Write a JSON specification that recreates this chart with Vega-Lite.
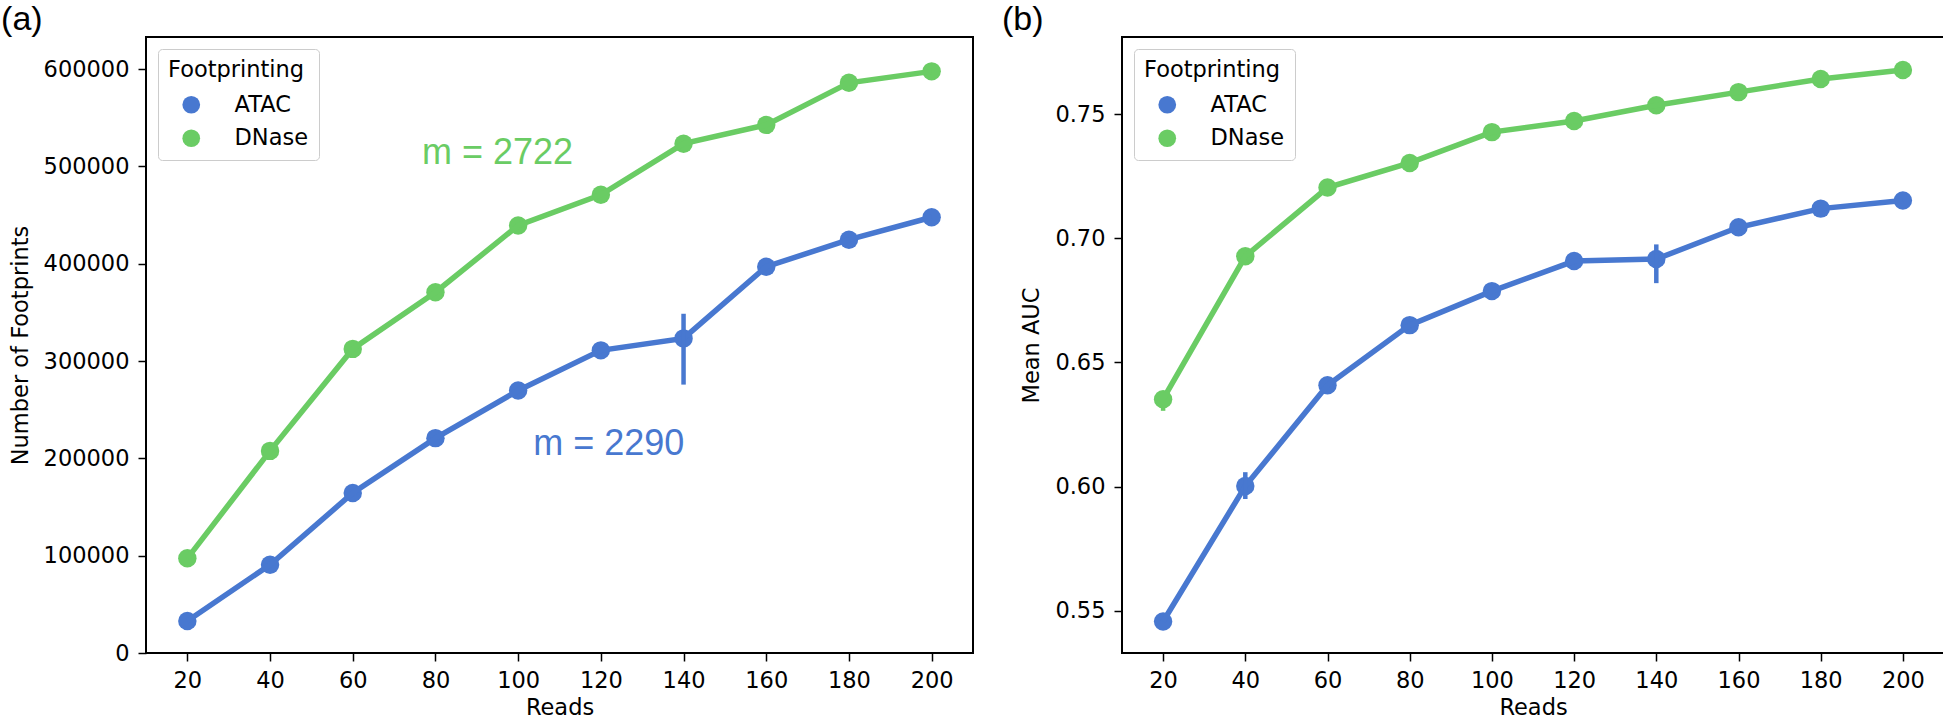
{
  "$schema": "https://vega.github.io/schema/vega-lite/v6.json",
  "padding": {"left": 0, "top": 2, "right": 0, "bottom": 0},
  "background": "white",
  "spacing": 26,
  "config": {
    "view": {"stroke": "black", "strokeWidth": 2},
    "axis": {"grid": false, "domain": false, "tickColor": "black", "tickSize": 8, "tickWidth": 1.5, "labelFont": "DejaVu Sans", "labelFontSize": 22.5, "labelColor": "black", "labelPadding": 9, "titleFont": "DejaVu Sans", "titleFontSize": 22.5, "titleFontWeight": "normal", "titleColor": "black", "titlePadding": 11},
    "axisX": {"titlePadding": 4.5, "labelPadding": 8},
    "legend": {"titleFont": "DejaVu Sans", "titleFontSize": 22.5, "titleFontWeight": "normal", "titleColor": "black", "labelFont": "DejaVu Sans", "labelFontSize": 22.5, "labelColor": "black", "symbolSize": 314, "symbolType": "circle", "symbolStrokeWidth": 0, "padding": 10, "strokeColor": "#cccccc", "fillColor": "white", "cornerRadius": 4, "rowPadding": 10.5, "titlePadding": 12, "symbolOffset": 12, "labelOffset": 32},
    "title": {"font": "Liberation Sans", "fontSize": 34, "fontWeight": "normal", "anchor": "start", "frame": "bounds", "color": "black"}
  },
  "hconcat": [
    {
      "width": 827,
      "height": 616,
      "title": {"text": "(a)", "dx": -8, "offset": 0},
      "data": {"values": [
        {"Footprinting": "ATAC", "Reads": 20, "value": 32900},
        {"Footprinting": "ATAC", "Reads": 40, "value": 90700},
        {"Footprinting": "ATAC", "Reads": 60, "value": 164400},
        {"Footprinting": "ATAC", "Reads": 80, "value": 220800},
        {"Footprinting": "ATAC", "Reads": 100, "value": 269700},
        {"Footprinting": "ATAC", "Reads": 120, "value": 311000},
        {"Footprinting": "ATAC", "Reads": 140, "value": 323300, "lo": 275800, "hi": 348600},
        {"Footprinting": "ATAC", "Reads": 160, "value": 397000},
        {"Footprinting": "ATAC", "Reads": 180, "value": 424700},
        {"Footprinting": "ATAC", "Reads": 200, "value": 447800},
        {"Footprinting": "DNase", "Reads": 20, "value": 97300},
        {"Footprinting": "DNase", "Reads": 40, "value": 207700},
        {"Footprinting": "DNase", "Reads": 60, "value": 312500},
        {"Footprinting": "DNase", "Reads": 80, "value": 370700},
        {"Footprinting": "DNase", "Reads": 100, "value": 439300},
        {"Footprinting": "DNase", "Reads": 120, "value": 470800},
        {"Footprinting": "DNase", "Reads": 140, "value": 523400},
        {"Footprinting": "DNase", "Reads": 160, "value": 542700},
        {"Footprinting": "DNase", "Reads": 180, "value": 585900},
        {"Footprinting": "DNase", "Reads": 200, "value": 597700}
      ]},
      "encoding": {
        "x": {"field": "Reads", "type": "quantitative", "scale": {"domain": [10, 210], "nice": false}, "axis": {"values": [20, 40, 60, 80, 100, 120, 140, 160, 180, 200], "title": "Reads"}},
        "color": {"field": "Footprinting", "type": "nominal", "scale": {"domain": ["ATAC", "DNase"], "range": ["#4878d0", "#6acc64"]}, "legend": {"title": "Footprinting", "orient": "top-left", "offset": 12}}
      },
      "layer": [
        {"mark": {"type": "point", "filled": true, "size": 340, "opacity": 1},
         "encoding": {"y": {"field": "value", "type": "quantitative", "scale": {"domain": [0, 633000], "nice": false, "zero": false}, "axis": {"values": [0, 100000, 200000, 300000, 400000, 500000, 600000], "format": "d"}, "title": "Number of Footprints"}}},
        {"mark": {"type": "line", "strokeWidth": 5.5},
         "encoding": {"y": {"field": "value", "type": "quantitative", "title": "Number of Footprints"}}},
        {"transform": [{"filter": "isValid(datum.lo)"}],
         "mark": {"type": "rule", "strokeWidth": 4.5},
         "encoding": {"y": {"field": "lo", "type": "quantitative", "title": "Number of Footprints"}, "y2": {"field": "hi"}}},
        {"data": {"values": [
          {"Footprinting": "DNase", "label": "m = 2722", "Reads": 95, "value": 502400},
          {"Footprinting": "ATAC", "label": "m = 2290", "Reads": 121.9, "value": 203400}
        ]},
         "mark": {"type": "text", "font": "Liberation Sans", "fontSize": 36, "align": "center", "baseline": "alphabetic"},
         "encoding": {"y": {"field": "value", "type": "quantitative", "title": "Number of Footprints"}, "text": {"field": "label"}}}
      ]
    },
    {
      "width": 822,
      "height": 616,
      "title": {"text": "(b)", "dx": -19, "offset": 0},
      "data": {"values": [
        {"Footprinting": "ATAC", "Reads": 20, "value": 0.5457},
        {"Footprinting": "ATAC", "Reads": 40, "value": 0.6002, "lo": 0.5950, "hi": 0.6058},
        {"Footprinting": "ATAC", "Reads": 60, "value": 0.6408},
        {"Footprinting": "ATAC", "Reads": 80, "value": 0.6650},
        {"Footprinting": "ATAC", "Reads": 100, "value": 0.6787},
        {"Footprinting": "ATAC", "Reads": 120, "value": 0.6908},
        {"Footprinting": "ATAC", "Reads": 140, "value": 0.6916, "lo": 0.6819, "hi": 0.6975},
        {"Footprinting": "ATAC", "Reads": 160, "value": 0.7044},
        {"Footprinting": "ATAC", "Reads": 180, "value": 0.7119},
        {"Footprinting": "ATAC", "Reads": 200, "value": 0.7152},
        {"Footprinting": "DNase", "Reads": 20, "value": 0.6352, "lo": 0.6305, "hi": 0.6380},
        {"Footprinting": "DNase", "Reads": 40, "value": 0.6927},
        {"Footprinting": "DNase", "Reads": 60, "value": 0.7204},
        {"Footprinting": "DNase", "Reads": 80, "value": 0.7303},
        {"Footprinting": "DNase", "Reads": 100, "value": 0.7427},
        {"Footprinting": "DNase", "Reads": 120, "value": 0.7472},
        {"Footprinting": "DNase", "Reads": 140, "value": 0.7535},
        {"Footprinting": "DNase", "Reads": 160, "value": 0.7588},
        {"Footprinting": "DNase", "Reads": 180, "value": 0.7641},
        {"Footprinting": "DNase", "Reads": 200, "value": 0.7677}
      ]},
      "encoding": {
        "x": {"field": "Reads", "type": "quantitative", "scale": {"domain": [10, 210], "nice": false}, "axis": {"values": [20, 40, 60, 80, 100, 120, 140, 160, 180, 200], "title": "Reads"}},
        "color": {"field": "Footprinting", "type": "nominal", "scale": {"domain": ["ATAC", "DNase"], "range": ["#4878d0", "#6acc64"]}, "legend": {"title": "Footprinting", "orient": "top-left", "offset": 12}}
      },
      "layer": [
        {"mark": {"type": "point", "filled": true, "size": 340, "opacity": 1},
         "encoding": {"y": {"field": "value", "type": "quantitative", "scale": {"domain": [0.533, 0.781], "nice": false, "zero": false}, "axis": {"values": [0.55, 0.6, 0.65, 0.7, 0.75], "format": ".2f"}, "title": "Mean AUC"}}},
        {"mark": {"type": "line", "strokeWidth": 5.5},
         "encoding": {"y": {"field": "value", "type": "quantitative", "title": "Mean AUC"}}},
        {"transform": [{"filter": "isValid(datum.lo)"}],
         "mark": {"type": "rule", "strokeWidth": 4.5},
         "encoding": {"y": {"field": "lo", "type": "quantitative", "title": "Mean AUC"}, "y2": {"field": "hi"}}}
      ]
    }
  ],
  "resolve": {"scale": {"color": "independent"}, "legend": {"color": "independent"}}
}
